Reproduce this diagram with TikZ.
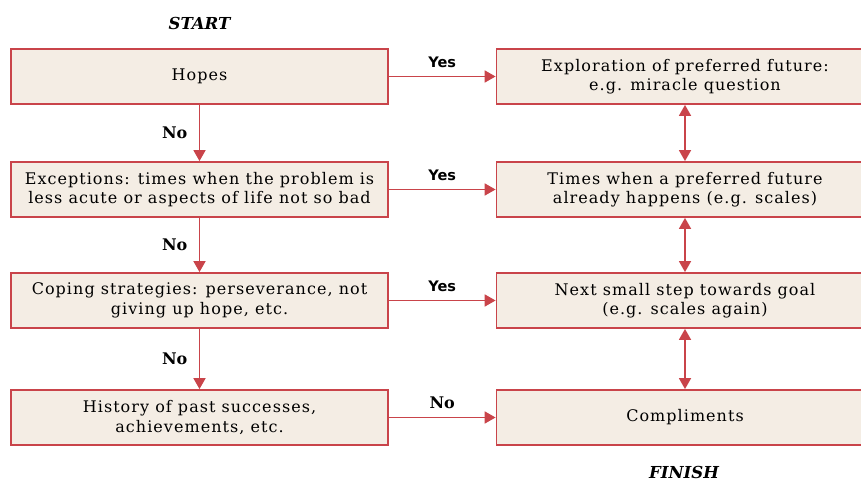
\documentclass[tikz,border=0pt]{standalone}
\usepackage{fontspec}
\setmainfont{DejaVu Serif}[LetterSpace=6.5]
\newfontfamily\labelsans{DejaVu Sans}
\newfontfamily\labelserif{DejaVu Serif}
\usetikzlibrary{arrows.meta}
\definecolor{boxred}{HTML}{C9444A}
\definecolor{boxfill}{HTML}{F4EDE4}
\begin{document}
\begin{tikzpicture}[x=1pt,y=1pt,
  flowbox/.style={draw=boxred, line width=1.8pt, fill=boxfill, minimum width=377pt, minimum height=55pt, align=center, inner sep=0pt, font=\fontsize{16}{19.5}\selectfont},
  flowarrow/.style={draw=boxred, line width=1.7pt, -{Triangle[width=12pt,length=11pt]}},
  biarrow/.style={draw=boxred, line width=1.7pt, {Triangle[width=12pt,length=11pt]}-{Triangle[width=12pt,length=11pt]}},
  yeslbl/.style={font=\labelsans\bfseries\fontsize{14.5}{16}\selectfont},
  nolbl/.style={font=\labelserif\bfseries\fontsize{16}{18}\selectfont},
  endlbl/.style={font=\labelserif\bfseries\itshape\fontsize{16.5}{18}\selectfont}
]
\useasboundingbox (0,0) rectangle (861,-481);
\begin{scope}
\clip (0,0) rectangle (861,-481);
\node[flowbox] (l1) at (199.5,-76.5) {Hopes};
\node[flowbox] (l2) at (199.5,-189.5) {Exceptions: times when the problem is\\less acute or aspects of life not so bad};
\node[flowbox] (l3) at (199.5,-300.5) {Coping strategies: perseverance, not\\giving up hope, etc.};
\node[flowbox] (l4) at (199.5,-417.5) {History of past successes,\\achievements, etc.};
\node[flowbox] (r1) at (685,-76.5) {Exploration of preferred future:\\e.g. miracle question};
\node[flowbox] (r2) at (685,-189.5) {Times when a preferred future\\already happens (e.g. scales)};
\node[flowbox] (r3) at (685,-300.5) {Next small step towards goal\\(e.g. scales again)};
\node[flowbox] (r4) at (685,-417.5) {Compliments};
\end{scope}
\node[endlbl] (start) at (199.5,-23) {START};
\node[endlbl] (finish) at (684,-472) {FINISH};
\draw[flowarrow] (l1) -- node[yeslbl, above=5pt] {Yes} (r1);
\draw[flowarrow] (l2) -- node[yeslbl, above=5pt] {Yes} (r2);
\draw[flowarrow] (l3) -- node[yeslbl, above=5pt] {Yes} (r3);
\draw[flowarrow] (l4) -- node[nolbl, above=5pt] {No} (r4);
\draw[flowarrow] (l1) -- node[nolbl, left=8pt] {No} (l2);
\draw[flowarrow] (l2) -- node[nolbl, left=8pt] {No} (l3);
\draw[flowarrow] (l3) -- node[nolbl, left=8pt] {No} (l4);
\draw[biarrow] (r1) -- (r2);
\draw[biarrow] (r2) -- (r3);
\draw[biarrow] (r3) -- (r4);
\end{tikzpicture}
\end{document}
